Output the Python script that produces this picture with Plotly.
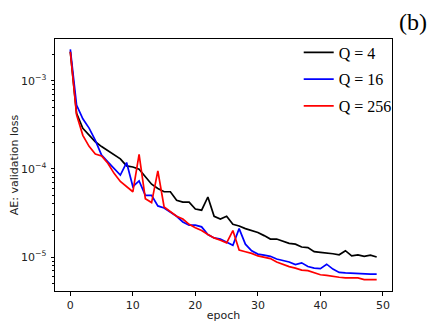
import plotly.graph_objects as go

epochs = list(range(50))
q4 = [2.13e-3, 4.27e-4, 2.88e-4, 2.42e-4, 2.03e-4, 1.79e-4, 1.6e-4, 1.43e-4, 1.3e-4, 1.08e-4,
      1.05e-4, 9.9e-5, 8.1e-5, 6.7e-5, 6.0e-5, 5.5e-5, 5.5e-5, 4.4e-5, 4.2e-5, 4.2e-5,
      3.5e-5, 3.4e-5, 4.8e-5, 2.9e-5, 2.7e-5, 2.9e-5, 2.35e-5, 2.25e-5, 2.1e-5, 2.0e-5,
      1.9e-5, 1.75e-5, 1.6e-5, 1.6e-5, 1.5e-5, 1.43e-5, 1.4e-5, 1.3e-5, 1.28e-5, 1.15e-5,
      1.13e-5, 1.12e-5, 1.09e-5, 1.06e-5, 1.18e-5, 1.03e-5, 1.06e-5, 1.02e-5, 1.05e-5, 1.0e-5]
q16 = [2.27e-3, 5.3e-4, 3.7e-4, 2.9e-4, 2.1e-4, 1.43e-4, 1.2e-4, 1.0e-4, 8.5e-5, 1.18e-4,
       6.3e-5, 7.3e-5, 5.0e-5, 5.0e-5, 3.8e-5, 3.6e-5, 3.2e-5, 2.9e-5, 2.5e-5, 2.3e-5,
       2.3e-5, 2.2e-5, 1.8e-5, 1.65e-5, 1.6e-5, 1.48e-5, 1.36e-5, 2.1e-5, 1.4e-5, 1.18e-5,
       1.08e-5, 1.05e-5, 1.02e-5, 9.5e-6, 9.2e-6, 8.8e-6, 8.2e-6, 8.6e-6, 7.8e-6, 7.5e-6,
       7.4e-6, 8.3e-6, 7.3e-6, 6.7e-6, 6.6e-6, 6.55e-6, 6.4e-6, 6.4e-6, 6.4e-6, 6.4e-6]
q256 = [2.13e-3, 4.1e-4, 2.4e-4, 1.8e-4, 1.47e-4, 1.4e-4, 1.16e-4, 8.9e-5, 7.2e-5, 6.3e-5,
        5.5e-5, 1.46e-4, 4.6e-5, 4.15e-5, 9.5e-5, 3.7e-5, 3.3e-5, 2.9e-5, 2.7e-5, 2.35e-5,
        2.15e-5, 2.0e-5, 1.8e-5, 1.65e-5, 1.55e-5, 1.45e-5, 2.0e-5, 1.2e-5, 1.15e-5, 1.1e-5,
        1.03e-5, 9.9e-6, 9.6e-6, 8.8e-6, 8.2e-6, 7.8e-6, 7.5e-6, 7.1e-6, 7.0e-6, 6.6e-6,
        6.3e-6, 6.2e-6, 6.0e-6, 5.9e-6, 5.8e-6, 5.8e-6, 5.8e-6, 5.55e-6, 5.6e-6, 5.55e-6]

series_names = ["Q = 4", "Q = 16", "Q = 256"]
series_colors = ["black", "blue", "red"]
x_ticks = [0, 10, 20, 30, 40, 50]
y_ticks = [1e-5, 1e-4, 1e-3]
y_ticktext = ["10<sup>−5</sup>", "10<sup>−4</sup>", "10<sup>−3</sup>"]
minor_y = [m * 10.0 ** e for e in (-6, -5, -4, -3) for m in range(2, 10)]

fig = go.Figure()
for name, vals, col in zip(series_names, [q4, q16, q256], series_colors):
    fig.add_trace(go.Scatter(x=epochs, y=vals, mode="lines", name=name, legendgroup=name,
                             line=dict(color=col, width=1.7)))

axis_common = dict(showline=True, linecolor="black", linewidth=1, mirror=True,
                   ticks="outside", ticklen=3.5, tickwidth=0.8, tickcolor="black",
                   showgrid=False, zeroline=False, automargin=False,
                   tickfont=dict(family="DejaVu Sans", size=11, color="#222"))

# the page body adds an 8px offset, so the figure is 8px smaller and margins compensate
fig.update_layout(
    width=428, height=319,
    margin=dict(l=46.5, r=44, t=31, b=36),
    paper_bgcolor="white", plot_bgcolor="white",
    showlegend=True,
    legend=dict(x=1.014, y=1.014, xanchor="right", yanchor="top",
                bgcolor="rgba(0,0,0,0)", borderwidth=0,
                font=dict(family="Liberation Serif", size=16, color="black"),
                itemwidth=30, tracegroupgap=3),
    xaxis=dict(range=[-2.45, 51.45], tickvals=x_ticks, ticklabelstandoff=0,
               title=dict(text="epoch", standoff=0,
                          font=dict(family="DejaVu Sans", size=11, color="#222")),
               **axis_common),
    yaxis=dict(type="log", range=[-5.385, -2.527], tickvals=y_ticks, ticktext=y_ticktext,
               ticklabelstandoff=2,
               minor=dict(tickvals=minor_y, ticks="outside", ticklen=2, tickwidth=0.6,
                          tickcolor="black", showgrid=False),
               title=dict(text="AE: validation loss", standoff=4,
                          font=dict(family="DejaVu Sans", size=11, color="#222")),
               **axis_common),
    annotations=[dict(text="(b)", x=1.106, y=1.123, xref="paper", yref="paper",
                      xanchor="right", yanchor="top", showarrow=False, borderpad=0,
                      font=dict(family="Liberation Serif", size=24, color="black"))],
)

fig.write_html("out.html")
